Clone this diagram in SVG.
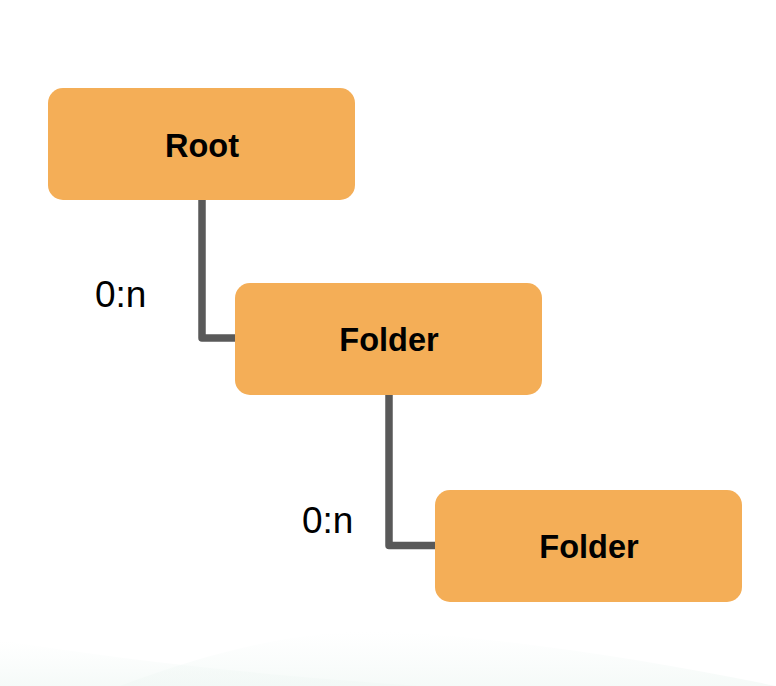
<svg xmlns="http://www.w3.org/2000/svg" width="776" height="686" viewBox="0 0 776 686">
  <style>
    .box { fill: #F4AE57; }
    .label { font-family: "Liberation Sans", Arial, sans-serif; font-weight: bold; font-size: 32.5px; fill: #000; text-anchor: middle; }
    .card { font-family: "Liberation Sans", Arial, sans-serif; font-size: 37px; fill: #000; }
    .conn { fill: none; stroke: #595959; stroke-width: 7.5; stroke-linejoin: round; }
  </style>
  <defs>
    <linearGradient id="fade" x1="0" y1="0" x2="0" y2="1">
      <stop offset="0" stop-color="#f4faf8" stop-opacity="0"/>
      <stop offset="1" stop-color="#f1f8f5" stop-opacity="1"/>
    </linearGradient>
  </defs>
  <rect x="0" y="0" width="776" height="686" fill="#ffffff"/>
  <g id="background">
    <path d="M0,640 C120,660 260,675 420,686 L0,686 Z" fill="url(#fade)" opacity="0.7"/>
    <path d="M120,686 C240,640 330,628 400,632 C520,640 650,660 776,686 Z" fill="url(#fade)" opacity="0.7"/>
  </g>
  <g id="connectors">
    <path class="conn" d="M202,200 V338 H236"/>
    <path class="conn" d="M389,394 V545.5 H436"/>
    <text class="card" x="95" y="307">0:n</text>
    <text class="card" x="302" y="533">0:n</text>
  </g>
  <g id="root">
    <rect class="box" x="48" y="88" width="307" height="112" rx="15"/>
    <text class="label" x="202" y="157">Root</text>
  </g>
  <g id="folder1">
    <rect class="box" x="235" y="283" width="307" height="112" rx="15"/>
    <text class="label" x="389" y="351">Folder</text>
  </g>
  <g id="folder2">
    <rect class="box" x="435" y="490" width="307" height="112" rx="15"/>
    <text class="label" x="589" y="558">Folder</text>
  </g>
</svg>
